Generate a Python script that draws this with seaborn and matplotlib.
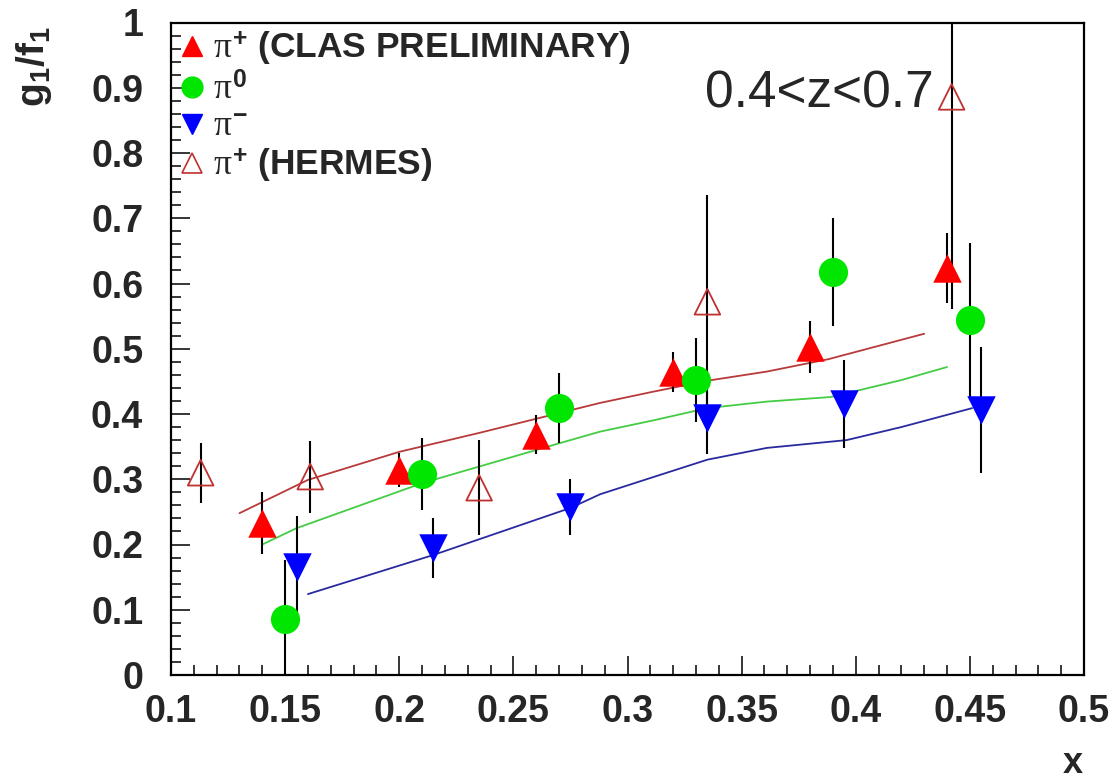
import numpy as np
import pandas as pd
import matplotlib
matplotlib.use("Agg")
import matplotlib.pyplot as plt
import seaborn as sns
from matplotlib.ticker import MultipleLocator
from matplotlib.lines import Line2D

# ---------------- data ----------------
pip_x = [0.14, 0.20, 0.26, 0.32, 0.38, 0.44]
pip_y = [0.233, 0.314, 0.368, 0.464, 0.503, 0.624]
pip_err = [0.047, 0.026, 0.030, 0.031, 0.040, 0.054]

pi0_x = [0.15, 0.21, 0.27, 0.33, 0.39, 0.45]
pi0_y = [0.086, 0.308, 0.409, 0.452, 0.618, 0.544]
pi0_err = [0.090, 0.055, 0.054, 0.064, 0.083, 0.118]

pim_x = [0.155, 0.215, 0.275, 0.335, 0.395, 0.455]
pim_y = [0.166, 0.195, 0.258, 0.394, 0.415, 0.406]
pim_err = [0.077, 0.046, 0.043, 0.055, 0.067, 0.097]

hermes_x = [0.113, 0.161, 0.235, 0.335, 0.442]
hermes_y = [0.310, 0.304, 0.287, 0.572, 0.886]
hermes_err = [0.046, 0.055, 0.073, 0.163, 0.325]

curve_pip_x = [0.13, 0.16, 0.20, 0.235, 0.288, 0.311, 0.335, 0.361, 0.388, 0.43]
curve_pip_y = [0.248, 0.299, 0.342, 0.371, 0.417, 0.434, 0.451, 0.465, 0.484, 0.523]

curve_pi0_x = [0.14, 0.155, 0.21, 0.27, 0.288, 0.311, 0.335, 0.361, 0.389, 0.42, 0.44]
curve_pi0_y = [0.200, 0.225, 0.294, 0.355, 0.373, 0.390, 0.409, 0.419, 0.426, 0.452, 0.472]

curve_pim_x = [0.16, 0.215, 0.275, 0.288, 0.311, 0.335, 0.361, 0.396, 0.42, 0.451]
curve_pim_y = [0.124, 0.184, 0.256, 0.277, 0.303, 0.330, 0.348, 0.360, 0.380, 0.409]

labels = [r"$\pi^{+}$ (CLAS PRELIMINARY)", r"$\pi^{0}$", r"$\pi^{-}$", r"$\pi^{+}$ (HERMES)"]
x_ticks = [0.1, 0.15, 0.2, 0.25, 0.3, 0.35, 0.4, 0.45, 0.5]
x_ticklabels = ["0.1", "0.15", "0.2", "0.25", "0.3", "0.35", "0.4", "0.45", "0.5"]
y_ticks = [0, 0.1, 0.2, 0.3, 0.4, 0.5, 0.6, 0.7, 0.8, 0.9, 1.0]
y_ticklabels = ["0", "0.1", "0.2", "0.3", "0.4", "0.5", "0.6", "0.7", "0.8", "0.9", "1"]
z_range_text = "0.4<z<0.7"

# ---------------- style ----------------
sns.set_style("ticks")
plt.rcParams["font.family"] = ["Liberation Sans", "DejaVu Sans"]
plt.rcParams["mathtext.fontset"] = "custom"
plt.rcParams["mathtext.rm"] = "Liberation Sans:bold"
plt.rcParams["mathtext.bf"] = "Liberation Sans:bold"
plt.rcParams["mathtext.it"] = "Liberation Serif"

RED = "#ff0000"
GREEN = "#00e600"
BLUE = "#0000ff"
HERMES_C = "#c03030"
C_RED = "#b83a3a"
C_GREEN = "#44cc44"
C_BLUE = "#2a2aa0"

fig = plt.figure(figsize=(11.15, 7.8), dpi=100)
L, R = 171 / 1115, 1084 / 1115
B, T = 1 - 675 / 780, 1 - 22.5 / 780
ax = fig.add_axes([L, B, R - L, T - B])

# theory curves
for cx, cy, cc in [(curve_pip_x, curve_pip_y, C_RED),
                   (curve_pi0_x, curve_pi0_y, C_GREEN),
                   (curve_pim_x, curve_pim_y, C_BLUE)]:
    sns.lineplot(x=cx, y=cy, color=cc, linewidth=1.3, sort=False,
                 estimator=None, ax=ax, zorder=1.5, legend=False)

# error bars
for ex, ey, ee in [(pip_x, pip_y, pip_err), (pi0_x, pi0_y, pi0_err),
                   (pim_x, pim_y, pim_err), (hermes_x, hermes_y, hermes_err)]:
    ax.errorbar(ex, ey, yerr=ee, fmt="none", ecolor="black",
                elinewidth=1.5, capsize=0, zorder=2)

# markers
sns.scatterplot(x=pip_x, y=pip_y, marker="^", s=420, color=RED,
                edgecolor=RED, linewidth=0, ax=ax, zorder=3, legend=False)
sns.scatterplot(x=pi0_x, y=pi0_y, marker="o", s=440, color=GREEN,
                edgecolor=GREEN, linewidth=0, ax=ax, zorder=3, legend=False)
sns.scatterplot(x=pim_x, y=pim_y, marker="v", s=420, color=BLUE,
                edgecolor=BLUE, linewidth=0, ax=ax, zorder=3, legend=False)
sns.scatterplot(x=hermes_x, y=hermes_y, marker="^", s=340, color=HERMES_C,
                facecolor="none", edgecolor=HERMES_C, linewidth=1.3,
                ax=ax, zorder=3, legend=False)

# axes
ax.set_xlim(0.1, 0.5)
ax.set_ylim(0, 1)
ax.set_xticks(x_ticks)
ax.set_xticklabels(x_ticklabels)
ax.set_yticks(y_ticks)
ax.set_yticklabels(y_ticklabels)
ax.xaxis.set_minor_locator(MultipleLocator(0.01))
ax.yaxis.set_minor_locator(MultipleLocator(0.02))
ax.tick_params(which="major", direction="in", length=14, width=1.3,
               labelsize=27, top=False, right=False)
ax.tick_params(which="minor", direction="in", length=7, width=1.3,
               top=False, right=False)
ax.tick_params(axis="x", which="major", pad=14)
ax.tick_params(axis="y", which="major", pad=20)
for lab in ax.get_xticklabels() + ax.get_yticklabels():
    lab.set_fontweight("bold")
for sp in ax.spines.values():
    sp.set_linewidth(1.6)
    sp.set_color("black")
ax.set_xlabel("")
ax.set_ylabel("")

# legend
handles = [
    Line2D([], [], linestyle="none", marker="^", markersize=15, color=RED),
    Line2D([], [], linestyle="none", marker="o", markersize=15, color=GREEN),
    Line2D([], [], linestyle="none", marker="v", markersize=15, color=BLUE),
    Line2D([], [], linestyle="none", marker="^", markersize=15,
           markerfacecolor="none", markeredgecolor=HERMES_C, markeredgewidth=1.2),
]
leg = ax.legend(handles, labels, loc="upper left", bbox_to_anchor=(-0.002, 1.0),
                frameon=False, borderpad=0.2, borderaxespad=0.0,
                handlelength=0.9, handletextpad=0.15, labelspacing=0.1,
                prop={"family": "Liberation Sans", "weight": "bold", "size": 25.5})

# annotations
fig.text(819 / 1115, 1 - 108 / 780, z_range_text, ha="center", va="baseline",
         fontsize=37, family="Liberation Sans")
fig.text(34 / 1115, 1 - 26 / 780, r"$\mathbf{g_1/f_1}$", rotation=90,
         ha="center", va="top", fontsize=28)
fig.text(1073 / 1115, 1 - 773 / 780, "x", ha="center", va="baseline",
         fontsize=26, fontweight="bold")

fig.savefig("out.png", dpi=100)
